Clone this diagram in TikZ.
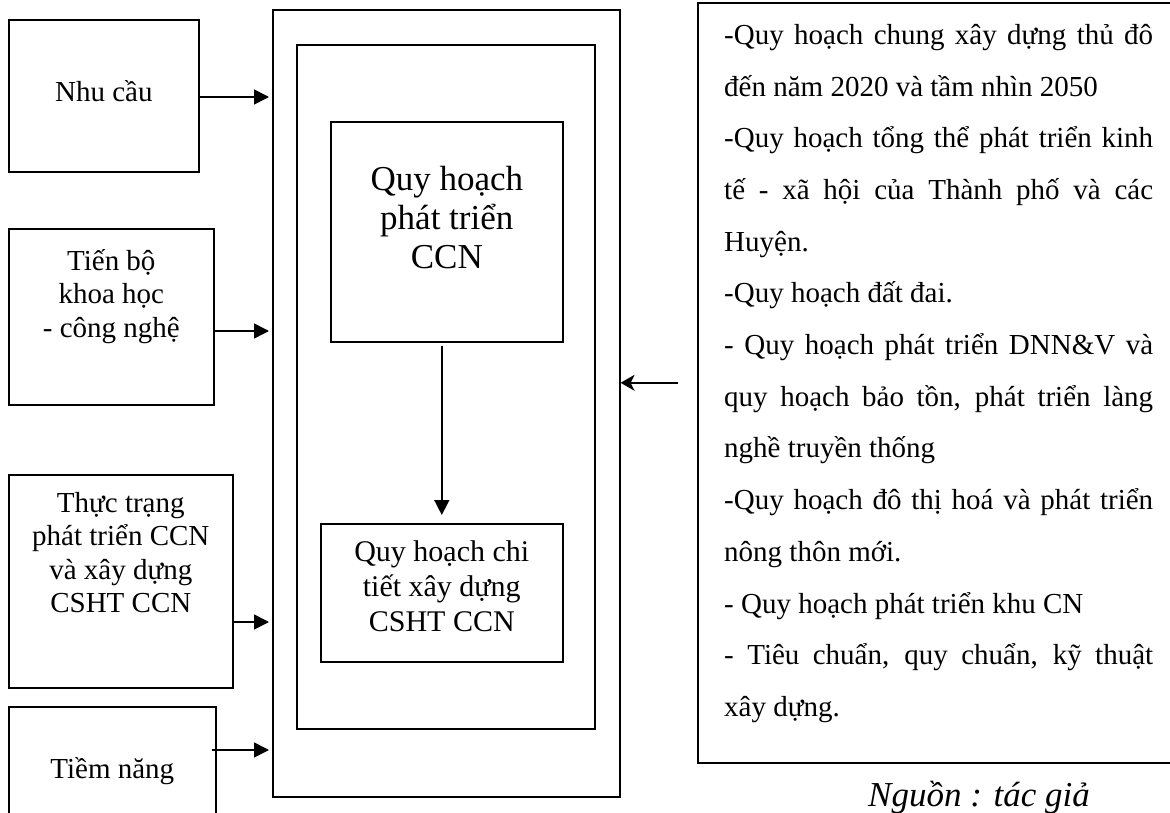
\documentclass[tikz,border=0pt]{standalone}
\usepackage{fontspec}
\setmainfont{Liberation Serif}
\usetikzlibrary{positioning,arrows.meta}
\setlength{\parindent}{0pt}

\begin{document}
\begin{tikzpicture}[x=1pt,y=-1pt,
    frame/.style={draw,line width=1.6pt,inner sep=0pt,anchor=north west},
    lbl/.style={align=center,inner sep=0pt,font=\fontsize{29}{33.5}\selectfont},
    arr/.style={line width=1.6pt,-{Triangle[length=15pt,width=15pt]}},
    backarr/.style={line width=1.6pt,-{Stealth[length=14pt,width=16pt,inset=4pt]}}]
  \useasboundingbox (0,0) rectangle (1170,813);

  % factors on the left
  \node[frame,minimum width=190pt,minimum height=152pt] (need) at (8,19) {};
  \node[lbl,anchor=base] (needtxt) at (need.center |- 0,102) {Nhu cầu};
  \node[frame,minimum width=205pt,minimum height=176pt] (tech) at (8,228) {};
  \node[lbl,below=21pt of tech.north] (techtxt) {Tiến bộ\\khoa học\\- công nghệ};
  \node[frame,minimum width=224pt,minimum height=213pt] (status) at (8,474) {};
  \node[lbl,below=18pt of status.north] (statustxt)
    {Thực trạng\\phát triển CCN\\và xây dựng\\CSHT CCN};
  \node[frame,minimum width=207pt,minimum height=130pt] (potential) at (8,706) {};
  \node[lbl,anchor=base] (potentialtxt) at (potential.center |- 0,778) {Tiềm năng};

  % planning frame
  \node[frame,minimum width=347pt,minimum height=787pt] (main) at (272,9) {};
  \node[frame,minimum width=298pt,minimum height=684pt] (inner) at (296,44) {};
  \node[frame,minimum width=232pt,minimum height=220pt] (plan) at (330,121) {};
  \node[lbl,font=\fontsize{35}{39}\selectfont,below=45pt of plan.north] (plantxt)
    {Quy hoạch\\phát triển\\CCN};
  \node[frame,minimum width=242pt,minimum height=138pt] (detail) at (320,523) {};
  \node[lbl,font=\fontsize{30}{35}\selectfont,below=17pt of detail.north] (detailtxt)
    {Quy hoạch chi\\tiết xây dựng\\CSHT CCN};

  % planning documents on the right
  \node[frame,minimum width=480pt,minimum height=760pt] (src) at (697,2) {};
  \node[anchor=north west,inner sep=0pt,text width=429pt,align=justify,
        font=\fontsize{29}{51.7}\selectfont] (srctxt) at (724,24)
    {-Quy hoạch chung xây dựng thủ đô\linebreak
     đến năm 2020 và tầm nhìn 2050\par
     -Quy hoạch tổng thể phát triển kinh\linebreak
     tế - xã hội của Thành phố và các\linebreak
     Huyện.\par
     -Quy hoạch đất đai.\par
     - Quy hoạch phát triển DNN\&V và\linebreak
     quy hoạch bảo tồn, phát triển làng\linebreak
     nghề truyền thống\par
     -Quy hoạch đô thị hoá và phát triển\linebreak
     nông thôn mới.\par
     - Quy hoạch phát triển khu CN\par
     - Tiêu chuẩn, quy chuẩn, kỹ thuật\linebreak
     xây dựng.\par};
  \node[anchor=base,font=\fontsize{35}{40}\selectfont\itshape] (credit)
    at (979,806) {Nguồn : tác giả};

  \coordinate (in1) at (269,97);
  \coordinate (in2) at (269,331);
  \coordinate (in3) at (269,622);
  \coordinate (in4) at (269,750);
  \coordinate (pstart) at ([xshift=-5pt]potential.east);
  \coordinate (srcout) at ([xshift=-19pt]src.west);

  \draw[arr] (need.east |- in1) -- (in1);
  \draw[arr] (tech.east |- in2) -- (in2);
  \draw[arr] (status.east |- in3) -- (in3);
  \draw[arr] (pstart |- in4) -- (in4);
  \draw[arr,shorten <=3pt,shorten >=8pt] (plan.south -| detail) -- (detail.north);
  \draw[backarr] (srcout) -- (srcout -| main.east);
\end{tikzpicture}
\end{document}
